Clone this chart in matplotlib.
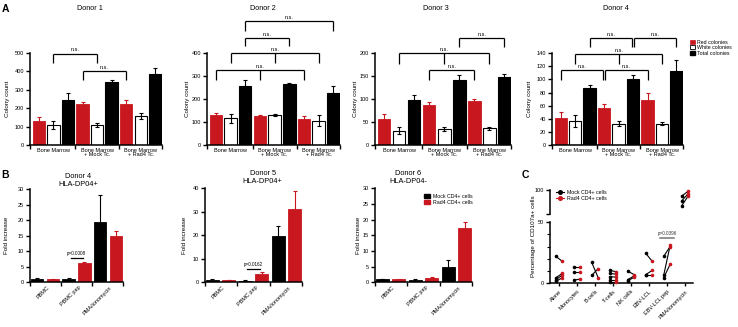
import matplotlib
matplotlib.use('Agg')
import matplotlib.pyplot as plt
from matplotlib.patches import Patch
from matplotlib.lines import Line2D
import numpy as np

plt.rcParams['font.family'] = ['Liberation Sans', 'DejaVu Sans']

W, H = 738, 327
RED = '#c8171e'

# ---------------- Panel A data ----------------
groups_A = ['Bone Marrow', 'Bone Marrow\n+ Mock Tc.', 'Bone Marrow\n+ Rad4 Tc.']
series_A = ['Red colonies', 'White colonies', 'Total colonies']
donors_A = ['Donor 1', 'Donor 2', 'Donor 3', 'Donor 4']

d1_red = [133, 223, 223];   d1_red_sem = [18, 13, 22]
d1_white = [108, 111, 158]; d1_white_sem = [21, 11, 18]
d1_total = [248, 343, 388]; d1_total_sem = [33, 9, 29]

d2_red = [132, 129, 114];   d2_red_sem = [10, 3, 14]
d2_white = [117, 132, 107]; d2_white_sem = [19, 4, 25]
d2_total = [258, 265, 226]; d2_total_sem = [26, 7, 32]

d3_red = [57, 87, 96];      d3_red_sem = [10, 7, 5]
d3_white = [32, 35, 37];    d3_white_sem = [7, 5, 3]
d3_total = [99, 141, 148];  d3_total_sem = [11, 11, 7]

d4_red = [41, 57, 68.5];    d4_red_sem = [9, 5, 11]
d4_white = [37, 33, 33];    d4_white_sem = [9, 4, 2]
d4_total = [87, 100, 113];  d4_total_sem = [5, 7, 17]

ymax_A = [500, 400, 200, 140]
ystep_A = [100, 100, 50, 20]

# brackets: (bar indices, y of horizontal line, y of leg bottoms)
br_d1 = [([1, 4], 497, 446), ([3, 6], 402, 352)]
br_d2 = [([2, 8], 537, 494), ([2, 5], 465, 429), ([1, 4, 7], 400, 357), ([0, 3, 6], 328, 284)]
br_d3 = [([5, 8], 232, 213), ([1, 4, 7], 199, 177), ([3, 6], 163, 141)]
br_d4 = [([2, 4.93], 162, 149), ([5.07, 8], 162, 149), ([1, 4, 7], 139, 124),
         ([0, 2.9], 114, 99), ([3.05, 6], 114, 99)]

# ---------------- Panel B data ----------------
groups_B = ['PBMC', 'PBMC pep', 'PMA/ionomycin']
series_B = ['Mock CD4+ cells', 'Rad4 CD4+ cells']
b4_mock = [1.0, 1.0, 19.3]; b4_mock_sem = [0.3, 0.5, 8.8]
b4_rad4 = [1.0, 6.1, 14.9]; b4_rad4_sem = [0.2, 0.3, 1.6]
b5_mock = [1.0, 0.7, 19.7]; b5_mock_sem = [0.3, 0.3, 4.3]
b5_rad4 = [1.0, 3.5, 31.2]; b5_rad4_sem = [0.1, 1.0, 7.7]
b6_mock = [1.0, 0.7, 4.9];  b6_mock_sem = [0.1, 0.3, 2.2]
b6_rad4 = [1.0, 1.5, 17.2]; b6_rad4_sem = [0.2, 0.2, 1.9]
titles_B = ['Donor 4\nHLA-DP04+', 'Donor 5\nHLA-DP04+', 'Donor 6\nHLA-DP04-']
ymax_B = [30, 40, 30]
ystep_B = [5, 10, 5]
pvals_B = ['p=0.0008', 'p=0.0162', None]
pline_y_B = [7.7, 5.7, None]

# ---------------- Panel C data ----------------
cats_C = ['Alone', 'Monocytes', 'B-cells', 'T-cells', 'NK cells', 'EBV-LCL',
          'EBV-LCL pep', 'PMA/ionomycin']
mock_C = [[22, 4.5, 3, 1.5], [13.5, 9.5, 2.5], [17, 6.5], [10.5, 8, 5.5, 3, 1],
          [10, 3, 2], [24.5, 7, 7], [22, 6.5, 4.5], [95, 91, 87]]
rad4_C = [[18, 8, 6.5, 4.5], [13.5, 9.5, 3.5], [4.5, 12], [9.5, 7.5, 5, 3, 1],
          [7, 6, 5], [18, 10.5, 7], [30, 31, 15.5], [99, 97, 95]]
p_C = 'p=0.0396'
p_C_y = 36.6

fig = plt.figure(figsize=(W / 100, H / 100), dpi=100)


def add_ax(x0, x1, y0, y1):
    return fig.add_axes([x0 / W, 1 - y1 / H, (x1 - x0) / W, (y1 - y0) / H])


def style(ax):
    for s in ['top', 'right']:
        ax.spines[s].set_visible(False)
    for s in ['left', 'bottom']:
        ax.spines[s].set_linewidth(1.1)
    ax.tick_params(axis='y', length=3, width=1, labelsize=4, pad=1.2)
    ax.tick_params(axis='x', which='major', length=0, labelsize=4, pad=1.8)
    ax.tick_params(axis='x', which='minor', length=3, width=1)


def ftext(x, y, s, **kw):
    fig.text(x / W, 1 - y / H, s, **kw)


# ---------------- Panel A ----------------
boxes_A = [(30, 162), (207, 340), (375, 511), (552, 683)]
data_A = [(d1_red, d1_white, d1_total, d1_red_sem, d1_white_sem, d1_total_sem),
          (d2_red, d2_white, d2_total, d2_red_sem, d2_white_sem, d2_total_sem),
          (d3_red, d3_white, d3_total, d3_red_sem, d3_white_sem, d3_total_sem),
          (d4_red, d4_white, d4_total, d4_red_sem, d4_white_sem, d4_total_sem)]
brs_A = [br_d1, br_d2, br_d3, br_d4]
title_x_A = [89.5, 262.7, 435.5, 615.5]
ylab_x_A = [7, 187, 356, 529]

for k in range(4):
    x0, x1 = boxes_A[k]
    ax = add_ax(x0, x1, 53, 145.3)
    style(ax)
    red, white, total, rs, ws, ts = data_A[k]
    for g in range(3):
        base = 3 * g
        ax.bar(base, red[g], width=0.85, color=RED, edgecolor=RED, lw=0.6, zorder=2)
        ax.bar(base + 1, white[g], width=0.85, color='white', edgecolor='k', lw=0.8, zorder=2)
        ax.bar(base + 2, total[g], width=0.85, color='k', edgecolor='k', lw=0.8, zorder=2)
        ax.errorbar(base, red[g], yerr=rs[g], color=RED, capsize=1.5, elinewidth=0.8,
                    capthick=0.8, zorder=3)
        ax.errorbar(base + 1, white[g], yerr=ws[g], color='k', capsize=1.5, elinewidth=0.8,
                    capthick=0.8, zorder=3)
        ax.errorbar(base + 2, total[g], yerr=ts[g], color='k', capsize=1.5, elinewidth=0.8,
                    capthick=0.8, zorder=3)
    ax.set_xlim(-0.6, 8.45)
    ax.set_ylim(0, ymax_A[k])
    ax.set_yticks(np.arange(0, ymax_A[k] + 1, ystep_A[k]))
    ax.set_xticks([1, 4, 7], groups_A)
    for t in ax.get_xticklabels():
        t.set_linespacing(0.85)
    ax.set_xticks([-0.6, 2.5, 5.5, 8.45], minor=True)
    for xs, yt, yl in brs_A[k]:
        ax.plot([xs[0], xs[-1]], [yt, yt], color='k', lw=0.9, clip_on=False,
                solid_capstyle='butt')
        for xv in xs:
            ax.plot([xv, xv], [yl, yt], color='k', lw=0.9, clip_on=False,
                    solid_capstyle='butt')
        ax.annotate('n.s.', ((xs[0] + xs[-1]) / 2, yt), xytext=(0, 0.8),
                    textcoords='offset points', ha='center', va='bottom', fontsize=4,
                    annotation_clip=False)
    ftext(ylab_x_A[k], 99, 'Colony count', rotation=90, ha='center', va='center',
          fontsize=4.5)
    ftext(title_x_A[k], 8.5, donors_A[k], ha='center', va='center', fontsize=5.2)
    if k == 3:
        handles = [Patch(facecolor=RED, edgecolor=RED, lw=0.5),
                   Patch(facecolor='white', edgecolor='k', lw=0.6),
                   Patch(facecolor='k', edgecolor='k')]
        fig.legend(handles, series_A, loc='upper left',
                   bbox_to_anchor=(690 / W, 1 - 39.5 / H), frameon=False, fontsize=3.8,
                   handlelength=1.0, handleheight=0.8, labelspacing=0.15,
                   handletextpad=0.4, borderpad=0, borderaxespad=0)

# ---------------- Panel B ----------------
boxes_B = [(30, 123, 189, 282.3), (205, 302, 188.3, 282.3), (375, 472, 188.3, 282.3)]
data_B = [(b4_mock, b4_rad4, b4_mock_sem, b4_rad4_sem),
          (b5_mock, b5_rad4, b5_mock_sem, b5_rad4_sem),
          (b6_mock, b6_rad4, b6_mock_sem, b6_rad4_sem)]
title_pos_B = [(78, 180.5), (262.5, 177.5), (408.5, 177.5)]
ylab_x_B = [7, 185, 358]

for k in range(3):
    x0, x1, y0, y1 = boxes_B[k]
    ax = add_ax(x0, x1, y0, y1)
    style(ax)
    mock, rad4, ms, rsm = data_B[k]
    for g in range(3):
        ax.bar(2 * g, mock[g], width=0.8, color='k', edgecolor='k', lw=0.6, zorder=2)
        ax.bar(2 * g + 1, rad4[g], width=0.8, color=RED, edgecolor=RED, lw=0.6, zorder=2)
        ax.errorbar(2 * g, mock[g], yerr=ms[g], color='k', capsize=1.5, elinewidth=0.8,
                    capthick=0.8, zorder=3)
        ax.errorbar(2 * g + 1, rad4[g], yerr=rsm[g], color=RED, capsize=1.5,
                    elinewidth=0.8, capthick=0.8, zorder=3)
    ax.set_xlim(-0.45, 5.45)
    ax.set_ylim(0, ymax_B[k])
    ax.set_yticks(np.arange(0, ymax_B[k] + 1, ystep_B[k]))
    ax.set_xticks([0.6, 2.6, 4.6], groups_B, rotation=45, ha='right',
                  rotation_mode='anchor')
    ax.set_xticks([-0.45, 1.5, 3.5, 5.45], minor=True)
    if pvals_B[k]:
        yv = pline_y_B[k]
        ax.plot([2.12, 2.92], [yv, yv], color='k', lw=0.9)
        ax.annotate(pvals_B[k], (2.52, yv), xytext=(0, 1.5), textcoords='offset points',
                    ha='center', va='bottom', fontsize=3.3)
    ftext(ylab_x_B[k], 235, 'Fold increase', rotation=90, ha='center', va='center',
          fontsize=4.5)
    tx, ty = title_pos_B[k]
    ftext(tx, ty, titles_B[k], ha='center', va='center', fontsize=5.3, linespacing=1.1)
    if k == 2:
        handles = [Patch(facecolor='k', edgecolor='k'),
                   Patch(facecolor=RED, edgecolor=RED)]
        fig.legend(handles, series_B, loc='upper left',
                   bbox_to_anchor=(424 / W, 1 - 194 / H), frameon=False, fontsize=3.8,
                   handlelength=1.2, handleheight=0.8, labelspacing=0.2,
                   handletextpad=0.5, borderpad=0, borderaxespad=0)

# ---------------- Panel C ----------------
axl = add_ax(550, 693, 222, 283.3)
axu = add_ax(550, 693, 190, 214.3)
style(axl)
style(axu)
axu.spines['bottom'].set_visible(False)
d = 0.18
for i, cat in enumerate(cats_C):
    target = axu if i == len(cats_C) - 1 else axl
    for m, r in zip(mock_C[i], rad4_C[i]):
        target.plot([i - d, i + d], [m, r], color='k', lw=0.8, zorder=2, clip_on=False)
    target.plot([i - d] * len(mock_C[i]), mock_C[i], 'o', color='k', ms=2.6, mew=0,
                zorder=3, clip_on=False)
    target.plot([i + d] * len(rad4_C[i]), rad4_C[i], 'o', color=RED, ms=2.6, mew=0,
                zorder=3, clip_on=False)
for a in (axl, axu):
    a.set_xlim(-0.5, 7.45)
axl.set_ylim(0, 50)
axu.set_ylim(80, 100)
axl.set_yticks([0, 50])
axl.set_yticks([10, 20, 30, 40], minor=True)
axl.tick_params(axis='y', which='minor', length=2, width=0.8)
axu.set_yticks([80, 100], ['', '100'])
axu.set_xticks([])
axl.set_xticks(range(len(cats_C)), cats_C, rotation=45, ha='right',
               rotation_mode='anchor')
axl.tick_params(axis='x', which='major', length=2.5, width=1, pad=1.5)
axl.plot([5.64, 6.42], [p_C_y, p_C_y], color='#777777', lw=1.1)
axl.annotate(p_C, (6.03, p_C_y), xytext=(0, 1.5), textcoords='offset points',
             ha='center', va='bottom', fontsize=3.3, color='#333333')
ftext(533, 236, 'Percentage of CD107a+ cells', rotation=90, ha='center', va='center',
      fontsize=4.5)
handles = [Line2D([], [], color='k', marker='o', ms=2.6, lw=0.8),
           Line2D([], [], color=RED, marker='o', ms=2.6, lw=0.8)]
fig.legend(handles, series_B, loc='upper left', bbox_to_anchor=(556 / W, 1 - 190 / H),
           frameon=False, fontsize=3.8, handlelength=1.6, labelspacing=0.2,
           handletextpad=0.4, borderpad=0, borderaxespad=0)

# panel letters
ftext(1.5, 8.5, 'A', fontsize=7.5, fontweight='bold', va='center', ha='left')
ftext(1.5, 175.5, 'B', fontsize=7.5, fontweight='bold', va='center', ha='left')
ftext(522, 175, 'C', fontsize=7.5, fontweight='bold', va='center', ha='left')

fig.savefig('out.png', dpi=100)
